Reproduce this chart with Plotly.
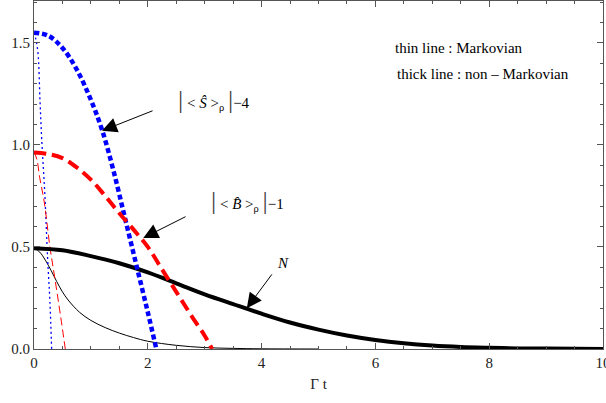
import plotly.graph_objects as go

# valores (Gamma t -> magnitud)
t_N = [0, 0.5, 1.0, 1.5, 2.0, 2.5, 3.0, 3.5, 4.0, 4.5, 5.0, 5.5, 6.0, 6.5, 7.0, 7.5, 8.0, 8.5, 9.0, 10.0]
N_nonmark = [0.494, 0.484, 0.455, 0.42, 0.375, 0.322, 0.268, 0.22, 0.173, 0.13, 0.095, 0.066, 0.044,
             0.028, 0.017, 0.010, 0.006, 0.003, 0.002, 0.0005]

t_Nm = [0, 0.1, 0.2, 0.3, 0.4, 0.5, 0.6, 0.8, 1.0, 1.25, 1.5, 1.75, 2.0, 2.5, 3.0, 3.5, 4.0, 5.0]
N_mark = [0.494, 0.475, 0.435, 0.385, 0.33, 0.28, 0.24, 0.18, 0.14, 0.105, 0.078, 0.056, 0.038,
          0.018, 0.007, 0.003, 0.001, 0.0]

t_S = [0, 0.25, 0.5, 0.75, 1.0, 1.2, 1.4, 1.6, 1.8, 2.0, 2.15]
S_nonmark = [1.55, 1.535, 1.475, 1.37, 1.22, 1.07, 0.87, 0.64, 0.41, 0.18, 0.0]

t_Sm = [0, 0.03, 0.07, 0.105, 0.135, 0.19, 0.24, 0.28, 0.31]
S_mark = [1.55, 1.52, 1.45, 1.22, 1.03, 0.76, 0.44, 0.23, 0.0]

t_B = [0, 0.25, 0.5, 0.75, 1.0, 1.25, 1.5, 1.75, 2.0, 2.25, 2.5, 2.75, 3.0, 3.13]
B_nonmark = [0.963, 0.955, 0.935, 0.89, 0.83, 0.75, 0.665, 0.585, 0.50, 0.39, 0.28, 0.17, 0.065, 0.0]

t_Bm = [0, 0.05, 0.1, 0.18, 0.28, 0.37, 0.46, 0.55]
B_mark = [0.965, 0.93, 0.84, 0.72, 0.50, 0.34, 0.175, 0.0]

x_ticks = [0, 2, 4, 6, 8, 10]
y_ticks = [0.0, 0.5, 1.0, 1.5]

serif = "Liberation Serif"

fig = go.Figure()

# curvas Markovianas (linea fina)
fig.add_trace(go.Scatter(x=t_Nm, y=N_mark, mode='lines', line=dict(color='black', width=1, shape='spline')))
fig.add_trace(go.Scatter(x=t_Sm, y=S_mark, mode='lines', line=dict(color='blue', width=1.3, dash='2px,3px', shape='spline')))
fig.add_trace(go.Scatter(x=t_Bm, y=B_mark, mode='lines', line=dict(color='red', width=1, dash='8px,4px', shape='spline')))

# curvas no-Markovianas (linea gruesa)
fig.add_trace(go.Scatter(x=t_N, y=N_nonmark, mode='lines', line=dict(color='black', width=4, shape='spline')))
fig.add_trace(go.Scatter(x=t_S, y=S_nonmark, mode='lines', line=dict(color='blue', width=4.5, dash='5px,3px', shape='spline')))
fig.add_trace(go.Scatter(x=t_B, y=B_nonmark, mode='lines', line=dict(color='red', width=4, dash='12px,6px', shape='spline')))

# flechas
flechas = [(1.195, 1.069, 2.11, 1.17), (1.92, 0.544, 2.69, 0.652), (3.74, 0.20, 4.2, 0.373)]
for x0, y0, x1, y1 in flechas:
    fig.add_annotation(x=x0, y=y0, ax=x1, ay=y1, axref='x', ayref='y', text='',
                       showarrow=True, arrowhead=2, arrowsize=3, arrowwidth=1, arrowcolor='black')

fuente = dict(family=serif, size=15, color='black')
barra = "<span style='font-size:26px;color:#444'>|</span>"
fig.add_annotation(x=3.16, y=1.22, showarrow=False, font=fuente,
                   text=barra + " < <i>Ŝ</i> ><sub>ρ</sub> " + barra + "−4")
fig.add_annotation(x=3.76, y=0.73, showarrow=False, font=fuente,
                   text=barra + " < <i>B̂</i> ><sub>ρ</sub> " + barra + "−1")
fig.add_annotation(x=4.38, y=0.42, showarrow=False, font=fuente, text="<i>N</i>")
fig.add_annotation(x=6.31, y=1.475, xanchor='left', showarrow=False, font=fuente,
                   text="thin line : Markovian")
fig.add_annotation(x=6.34, y=1.348, xanchor='left', showarrow=False, font=fuente,
                   text="thick line : non – Markovian")

eje = dict(showline=True, linecolor='#555', linewidth=1, mirror='ticks', showgrid=False, zeroline=False,
           ticks='inside', ticklen=6, tickcolor='#555', automargin=False, ticklabeloverflow='allow',
           tickfont=dict(family=serif, size=15, color='#222'))

fig.update_xaxes(**eje, range=[0, 10], tickvals=x_ticks, ticktext=[str(v) for v in x_ticks],
                 minor=dict(dtick=0.5, ticks='inside', ticklen=3, tickcolor='#555'),
                 title=dict(text='Γ t', font=dict(family=serif, size=15, color='#222'), standoff=8))
fig.update_yaxes(**eje, range=[0, 1.705], tickvals=y_ticks, ticktext=[f"{v:.1f}" for v in y_ticks],
                 minor=dict(dtick=0.1, ticks='inside', ticklen=3, tickcolor='#555'))

fig.update_layout(width=606, height=403, showlegend=False, plot_bgcolor='white', paper_bgcolor='white',
                  margin=dict(l=34, r=3, t=1, b=54))

# sin margen del body para que la figura quede en la esquina
fig.write_html("out.html", config={'displayModeBar': False},
               post_script="document.body.style.margin='0';")
